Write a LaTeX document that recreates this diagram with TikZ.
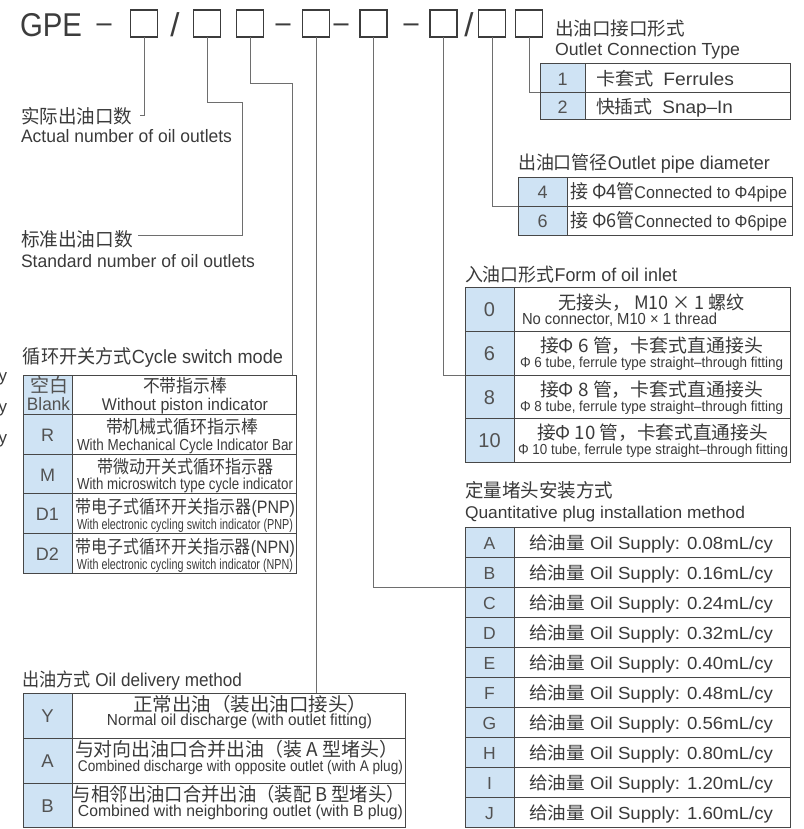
\documentclass[tikz,border=0pt]{standalone}
\usepackage{fontspec}
\usepackage{graphicx}
\setmainfont{Liberation Sans}
\newfontfamily\cjk{Noto Sans CJK SC}
\definecolor{txtc}{HTML}{3A3A3A}
\definecolor{hdc}{HTML}{3C3C3C}
\definecolor{keyc}{HTML}{525252}
\definecolor{lnc}{HTML}{6E6E6E}
\definecolor{tbc}{HTML}{474747}
\definecolor{bluef}{HTML}{CFE3F4}
\newcommand\TX[6]{\node[#1,font=\fontsize{#4}{#4}\selectfont] (#2) at (#3) {\resizebox{#5pt}{\height}{#6}};}
\newcommand\Z[1]{{\cjk #1}}
\tikzset{
 lbl/.style={inner sep=0pt, outer sep=0pt, anchor=base west, text=txtc},
 ctr/.style={inner sep=0pt, outer sep=0pt, anchor=base, text=txtc},
 key/.style={inner sep=0pt, outer sep=0pt, anchor=base, text=keyc},
 conn/.style={draw=lnc, line width=0.9pt},
 tb/.style={draw=tbc, line width=1pt},
 hbox/.style={draw=hdc, line width=1.3pt, minimum width=27pt, minimum height=27pt, inner sep=0pt, outer sep=0pt},
}
\begin{document}
\begin{tikzpicture}[x=1pt,y=-1pt]
\useasboundingbox (0,0) rectangle (803,829);

% ---------------- header ----------------
\TX{lbl,text=hdc}{gpe}{20,37}{33}{62}{GPE}
\TX{ctr,text=hdc}{d1}{104,32.5}{30}{15}{–}
\node[hbox] (b1) at (144,23.5) {};
\node[ctr,text=hdc,font=\fontsize{33}{33}\selectfont] (s1) at (175,37) {/};
\node[hbox] (b2) at (207,23.5) {};
\node[hbox] (b3) at (250,23.5) {};
\TX{ctr,text=hdc}{d2}{283,32.5}{30}{15}{–}
\node[hbox] (b4) at (316,23.5) {};
\TX{ctr,text=hdc}{d3}{341,32.5}{30}{15}{–}
\node[hbox] (b5) at (373.5,23.5) {};
\TX{ctr,text=hdc}{d4}{411,32.5}{30}{15}{–}
\node[hbox] (b6) at (443.5,23.5) {};
\node[ctr,text=hdc,font=\fontsize{33}{33}\selectfont] (s2) at (469,37) {/};
\node[hbox] (b7) at (492,23.5) {};
\node[hbox] (b8) at (529,23.5) {};

% ---------------- attachment points ----------------
\coordinate (c1) at (140,115);
\coordinate (k2) at (242,102);
\coordinate (c2) at (138,235);
\coordinate (k3) at (292,83);
\coordinate (t5in) at (292,375);
\coordinate (t6in) at (316,693);
\coordinate (t4in) at (465,587);
\coordinate (t3in) at (465,375);
\coordinate (t2in) at (518,206);
\coordinate (t1in) at (540,92.5);

% ---------------- left labels ----------------
\TX{lbl}{l1a}{21,124}{19}{111}{\Z{实际出油口数}}
\TX{lbl}{l1b}{21,143}{18}{211}{Actual number of oil outlets}
\TX{lbl}{l2a}{21,246}{19}{112}{\Z{标准出油口数}}
\TX{lbl}{l2b}{21,267}{18}{234}{Standard number of oil outlets}

% ---------------- table 1: outlet connection type ----------------
\TX{lbl}{t1a}{555,36}{18.5}{130}{\Z{出油口接口形式}}
\TX{lbl}{t1b}{555,55.5}{17.5}{185}{Outlet Connection Type}
\fill[bluef] (540,64) rectangle (585,119.5);
\draw[tb] (540,64) rectangle (790,119.5);
\draw[tb] (585,64) -- (585,119.5);
\draw[tb] (540,92.5) -- (790,92.5);
\node[key,font=\fontsize{18}{18}\selectfont] (k11) at (562.5,86) {1};
\node[key,font=\fontsize{18}{18}\selectfont] (k12) at (562.5,114) {2};
\TX{lbl}{r11}{596,86}{18}{138}{\Z{卡套式}\hspace{9pt}Ferrules}
\TX{lbl}{r12}{596,114}{18}{137}{\Z{快插式}\hspace{9pt}Snap–In}

% ---------------- table 2: outlet pipe diameter ----------------
\TX{lbl}{t2a}{518,169.5}{18.5}{252}{\Z{出油口管径}Outlet pipe diameter}
\fill[bluef] (518,178) rectangle (567,235);
\draw[tb] (518,178) rectangle (792,235);
\draw[tb] (567,178) -- (567,235);
\draw[tb] (518,206) -- (792,206);
\node[key,font=\fontsize{18}{18}\selectfont] (k21) at (542.5,198.5) {4};
\node[key,font=\fontsize{18}{18}\selectfont] (k22) at (542.5,227) {6};
\TX{lbl}{r21}{570,198}{19}{217}{\Z{接 Φ4管}{\fontsize{17}{17}\selectfont Connected to Φ4pipe}}
\TX{lbl}{r22}{570,227}{19}{217}{\Z{接 Φ6管}{\fontsize{17}{17}\selectfont Connected to Φ6pipe}}

% ---------------- table 3: form of oil inlet ----------------
\TX{lbl}{t3a}{465,281.5}{18.5}{212}{\Z{入油口形式}Form of oil inlet}
\fill[bluef] (465,287) rectangle (514,462);
\draw[tb] (465,287) rectangle (790,462);
\draw[tb] (514,287) -- (514,462);
\foreach \yy in {331,375,418} \draw[tb] (465,\yy) -- (790,\yy);
\node[key,font=\fontsize{20}{20}\selectfont] (k30) at (489.5,316.5) {0};
\node[key,font=\fontsize{20}{20}\selectfont] (k36) at (489.5,360.5) {6};
\node[key,font=\fontsize{20}{20}\selectfont] (k38) at (489.5,404.5) {8};
\node[key,font=\fontsize{20}{20}\selectfont] (k310) at (489.5,447.5) {10};
\TX{lbl}{r30a}{558,309}{18.5}{187}{\Z{无接头，  M10 × 1 螺纹}}
\TX{lbl}{r30b}{522,324.5}{16}{195}{No connector, M10 × 1 thread}
\TX{lbl}{r36a}{540,352.5}{18.5}{223}{\Z{接Φ 6 管，卡套式直通接头}}
\TX{lbl}{r36b}{520,367}{14.5}{263}{Φ 6 tube, ferrule type straight–through fitting}
\TX{lbl}{r38a}{540,396.5}{18.5}{223}{\Z{接Φ 8 管，卡套式直通接头}}
\TX{lbl}{r38b}{520,411}{14.5}{263}{Φ 8 tube, ferrule type straight–through fitting}
\TX{lbl}{r310a}{537,439.5}{18.5}{231}{\Z{接Φ 10 管，卡套式直通接头}}
\TX{lbl}{r310b}{518,454}{14.5}{270}{Φ 10 tube, ferrule type straight–through fitting}

% ---------------- table 4: quantitative plug ----------------
\TX{lbl}{t4a}{465,497.5}{19}{148}{\Z{定量堵头安装方式}}
\TX{lbl}{t4b}{465,518}{17}{280}{Quantitative plug installation method}
\fill[bluef] (465,527) rectangle (514,827);
\draw[tb] (465,527) rectangle (790,827);
\draw[tb] (514,527) -- (514,827);
\foreach \i in {1,...,9} \draw[tb] (465,527+30*\i) -- (790,527+30*\i);
\foreach \qk/\qv [count=\i from 0] in {A/0.08,B/0.16,C/0.24,D/0.32,E/0.40,F/0.48,G/0.56,H/0.80,I/1.20,J/1.60} {
  \pgfmathsetmacro\yb{549+30*\i}
  \node[key,font=\fontsize{17.5}{17.5}\selectfont] (q\qk) at (489.5,\yb) {\qk};
  \node[lbl,font=\fontsize{17.5}{17.5}\selectfont] (qt\qk) at (529,\yb) {\resizebox{244pt}{\height}{\Z{给油量} Oil Supply: \qv mL/cy}};
}

% ---------------- table 5: cycle switch mode ----------------
\TX{lbl}{t5a}{23,363.5}{19}{260}{\Z{循环开关方式}Cycle switch mode}
\fill[bluef] (23,375) rectangle (72,573);
\draw[tb] (23,375) rectangle (296,573);
\draw[tb] (72,375) -- (72,573);
\foreach \yy in {414,454,493,533} \draw[tb] (23,\yy) -- (296,\yy);
\TX{ctr,text=keyc}{k5b1}{49,392.5}{19}{38}{\Z{空白}}
\TX{ctr,text=keyc}{k5b2}{48.5,410}{18}{43}{Blank}
\TX{ctr}{r5b1}{185,392.5}{18}{84}{\Z{不带指示棒}}
\TX{ctr}{r5b2}{185,410}{17}{166}{Without piston indicator}
\node[key,font=\fontsize{18}{18}\selectfont] (k5r) at (47.5,441) {R};
\TX{ctr}{r5r1}{182,433.5}{18}{152}{\Z{带机械式循环指示棒}}
\TX{ctr}{r5r2}{185,450}{16}{216}{With Mechanical Cycle Indicator Bar}
\node[key,font=\fontsize{18}{18}\selectfont] (k5m) at (47.5,481) {M};
\TX{ctr}{r5m1}{185,473.5}{18}{176}{\Z{带微动开关式循环指示器}}
\TX{ctr}{r5m2}{185,489.5}{16}{216}{With microswitch type cycle indicator}
\node[key,font=\fontsize{18}{18}\selectfont] (k5d1) at (47.5,520) {D1};
\TX{ctr}{r5d1a}{185.5,513}{18}{219}{\Z{带电子式循环开关指示器}(PNP)}
\TX{ctr}{r5d1b}{185,529}{14.5}{216}{With electronic cycling switch indicator (PNP)}
\node[key,font=\fontsize{18}{18}\selectfont] (k5d2) at (47.5,560) {D2};
\TX{ctr}{r5d2a}{185.5,553}{18}{219}{\Z{带电子式循环开关指示器}(NPN)}
\TX{ctr}{r5d2b}{185,569}{14.5}{216}{With electronic cycling switch indicator (NPN)}

% ---------------- table 6: oil delivery method ----------------
\TX{lbl}{t6a}{22,686.5}{18.5}{220}{\Z{出油方式} Oil delivery method}
\fill[bluef] (23,693) rectangle (72,827);
\draw[tb] (23,693) rectangle (405,827);
\draw[tb] (72,693) -- (72,827);
\foreach \yy in {738,783} \draw[tb] (23,\yy) -- (405,\yy);
\node[key,font=\fontsize{18.5}{18.5}\selectfont] (k6y) at (47.5,722) {Y};
\node[key,font=\fontsize{18.5}{18.5}\selectfont] (k6a) at (47.5,767) {A};
\node[key,font=\fontsize{18.5}{18.5}\selectfont] (k6b) at (47.5,812) {B};
\TX{ctr}{r6y1}{250,711}{19}{234}{\Z{正常出油（装出油口接头）}}
\TX{ctr}{r6y2}{239.5,725.5}{16}{265}{Normal oil discharge (with outlet fitting)}
\TX{ctr}{r6a1}{236.5,756.5}{19}{323}{\Z{与对向出油口合并出油（装 A 型堵头）}}
\TX{ctr}{r6a2}{240.5,771}{15.5}{325}{Combined discharge with opposite outlet (with A plug)}
\TX{ctr}{r6b1}{239,801.5}{19}{332}{\Z{与相邻出油口合并出油（装配 B 型堵头）}}
\TX{ctr}{r6b2}{240.5,816}{16}{325}{Combined with neighboring outlet (with B plug)}

% ---------------- edge fragments ----------------
\node[lbl,font=\fontsize{17}{17}\selectfont] (y1) at (-1.5,381) {y};
\node[lbl,font=\fontsize{17}{17}\selectfont] (y2) at (-1.5,412) {y};
\node[lbl,font=\fontsize{17}{17}\selectfont] (y3) at (-1.5,443) {y};

% ---------------- connectors ----------------
\draw[conn] (b1.south) |- (c1);
\draw[conn] (b2.south) |- (k2) |- (c2);
\draw[conn] (b3.south) |- (k3) -- (t5in);
\draw[conn] (b4.south) -- (t6in);
\draw[conn] (b5.south) |- (t4in);
\draw[conn] (b6.south) |- (t3in);
\draw[conn] (b7.south) |- (t2in);
\draw[conn] (b8.south) |- (t1in);
\end{tikzpicture}
\end{document}
